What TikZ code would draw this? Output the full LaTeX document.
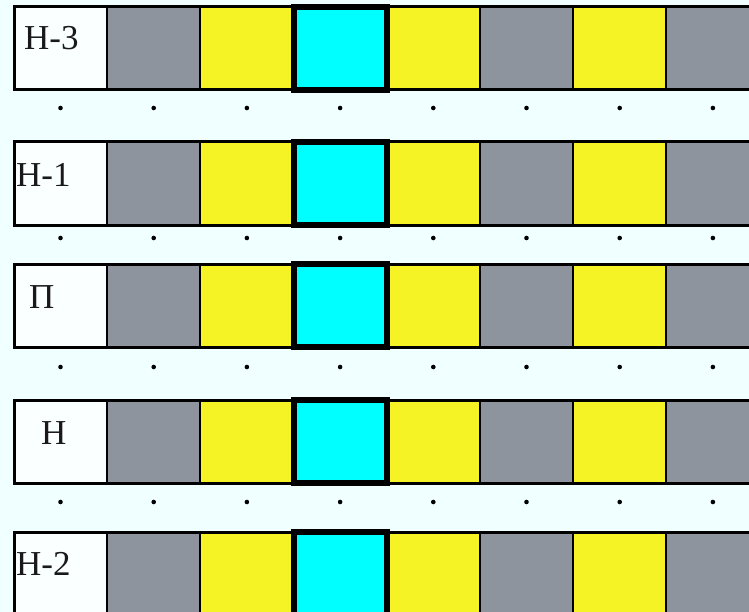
\documentclass[tikz,border=0pt]{standalone}
\usepackage{fontspec}
\setmainfont{Liberation Serif}
\usepackage{tikz}
\definecolor{bgazure}{RGB}{240,255,255}
\definecolor{cellgray}{RGB}{142,148,158}
\definecolor{cellyellow}{RGB}{245,242,38}
\definecolor{cellcyan}{RGB}{0,255,255}
\definecolor{labelwhite}{RGB}{250,255,255}

\begin{document}
\begin{tikzpicture}[x=1bp, y=-1bp, font=\fontsize{35bp}{40bp}\selectfont,
    rowlabel/.style={anchor=base west, inner sep=0pt, text=black!90}]
  \useasboundingbox[fill=bgazure] (0,0) rectangle (749,612);
  \clip (0,0) rectangle (749,612);
  \foreach \y in {7, 142, 264, 400, 532} {
    \foreach \i/\c in {0/labelwhite, 1/cellgray, 2/cellyellow, 3/cellcyan, 4/cellyellow, 5/cellgray, 6/cellyellow, 7/cellgray} {
      \pgfmathsetmacro{\x}{14 + \i*93.2}
      \draw[black, line width=2bp, fill=\c] (\x,\y) rectangle (\x+93.2, \y+83);
    }
    \draw[black, line width=3bp] (14,\y) rectangle (770,\y+83);
    \draw[black, line width=6bp] (14+3*93.2,\y) rectangle (14+4*93.2,\y+83);
  }
  \foreach \y in {108, 238, 367, 502}
    \foreach \i in {0,...,7}
      \fill (60.5+\i*93.2, \y) circle (2.3bp);
  \node[rowlabel] (lblH3) at (24,50)  {Н-3};
  \node[rowlabel] (lblH1) at (16,187) {Н-1};
  \node[rowlabel] (lblP)  at (29,308) {П};
  \node[rowlabel] (lblH)  at (41,444) {Н};
  \node[rowlabel] (lblH2) at (16,575) {Н-2};
\end{tikzpicture}
\end{document}
